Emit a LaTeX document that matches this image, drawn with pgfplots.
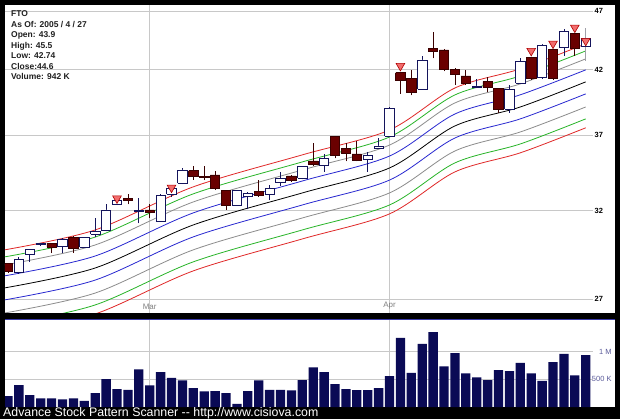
\documentclass[border=0pt]{standalone}
\usepackage{pgfplots}
\pgfplotsset{compat=1.18}
\usepackage{fontspec}
\setmainfont{Liberation Sans}
\definecolor{dnfill}{HTML}{6A0000}
\definecolor{dndraw}{HTML}{3A0000}
\definecolor{updraw}{HTML}{14145C}
\definecolor{trifill}{HTML}{F26D6D}
\definecolor{tridraw}{HTML}{B00000}
\definecolor{lred}{HTML}{E02828}
\definecolor{lgreen}{HTML}{28B428}
\definecolor{lgray}{HTML}{8C8C8C}
\definecolor{lblue}{HTML}{2828D0}
\definecolor{gridgray}{HTML}{C8C8C8}
\definecolor{labgray}{HTML}{808080}
\definecolor{volnavy}{HTML}{0A0A55}
\definecolor{volblue}{HTML}{5A5A9A}
\definecolor{sepblue}{HTML}{3A3AA8}
\definecolor{infotext}{HTML}{202020}
\definecolor{wickgray}{HTML}{A0A0A8}
\begin{document}
\begin{tikzpicture}[x=1bp,y=1bp]
\fill[black] (0,0) rectangle (620,419);
\fill[white] (5,106) rectangle (615,414);
\fill[white] (5,12) rectangle (615,99);
\draw[sepblue, line width=1.5bp] (5,99.75) -- (615,99.75);
\begin{axis}[
  at={(5bp,106bp)}, anchor=south west, scale only axis,
  width=588bp, height=308bp,
  xmin=-0.275, xmax=53.67,
  ymode=log, ymin=26.28, ymax=47.57,
  ytick={27,32,37,42,47}, yticklabels={27,32,37,42,47},
  xtick={13,35}, xticklabels={Mar,Apr},
  grid=major, grid style={gridgray, line width=0.75bp},
  axis line style={draw=none},
  major tick length=0pt,
  yticklabel pos=right,
  yticklabel style={anchor=west, font=\bfseries\fontsize{7.5}{9}\selectfont, inner sep=1.5bp},
  xticklabel style={anchor=south, font=\fontsize{8}{9}\selectfont, text=labgray},
  unbounded coords=jump,
]
% envelope lines
\addplot[lred, line width=0.8bp, smooth] coordinates {(-0.3,29.68) (8,30.84) (17,33.51) (27,35.64) (35,37.39) (41,40.54) (47,42.06) (53,44.14)};
\addplot[lgreen, line width=0.8bp, smooth] coordinates {(-0.3,29.28) (8,30.42) (17,33.06) (27,35.16) (35,36.89) (41,40.00) (47,41.49) (53,43.54)};
\addplot[lgray, line width=0.8bp, smooth] coordinates {(-0.3,28.83) (8,29.96) (17,32.55) (27,34.62) (35,36.32) (41,39.39) (47,40.86) (53,42.88)};
\addplot[lblue, line width=0.8bp, smooth] coordinates {(-0.3,28.23) (8,29.33) (17,31.87) (27,33.89) (35,35.56) (41,38.56) (47,40.01) (53,41.98)};
\addplot[black, line width=0.8bp, smooth] coordinates {(-0.3,27.58) (8,28.66) (17,31.14) (27,33.12) (35,34.75) (41,37.68) (47,39.09) (53,41.02)};
\addplot[lblue, line width=0.8bp, smooth] coordinates {(-0.3,26.95) (8,28.00) (17,30.43) (27,32.36) (35,33.95) (41,36.82) (47,38.20) (53,40.08)};
\addplot[lgray, line width=0.8bp, smooth] coordinates {(-0.3,26.28) (8,27.31) (17,29.68) (27,31.56) (35,33.12) (41,35.91) (47,37.25) (53,39.09)};
\addplot[lgreen, line width=0.8bp, smooth] coordinates {(-0.3,25.68) (8,26.69) (17,29.00) (27,30.84) (35,32.36) (41,35.09) (47,36.40) (53,38.20)};
\addplot[lred, line width=0.8bp, smooth] coordinates {(-0.3,25.24) (8,26.23) (17,28.50) (27,30.31) (35,31.81) (41,34.49) (47,35.78) (53,37.55)};
% wicks of falling days
\addplot[dndraw, line width=0.8bp] table[row sep=\\] {x y\\
0 28.40\\0 28.95\\nan nan\\4 29.49\\4 30.10\\nan nan\\6 29.50\\6 30.50\\nan nan\\
11 32.40\\11 33.04\\nan nan\\13 31.55\\13 32.45\\nan nan\\17 33.98\\17 34.89\\nan nan\\
18 33.95\\18 34.85\\nan nan\\19 33.30\\19 34.57\\nan nan\\20 32.05\\20 33.30\\nan nan\\
23 32.89\\23 33.96\\nan nan\\26 33.85\\26 34.30\\nan nan\\28 34.87\\28 36.45\\nan nan\\
30 35.40\\30 36.95\\nan nan\\31 35.20\\31 36.45\\nan nan\\32 35.20\\32 36.62\\nan nan\\
36 40.08\\36 41.80\\nan nan\\37 39.98\\37 41.96\\nan nan\\39 42.93\\39 45.19\\nan nan\\
40 41.85\\40 43.70\\nan nan\\41 40.78\\41 42.10\\nan nan\\42 40.78\\42 41.96\\nan nan\\
44 40.24\\44 41.43\\nan nan\\45 38.62\\45 40.55\\nan nan\\48 41.18\\48 43.05\\nan nan\\
50 41.18\\50 43.70\\nan nan\\52 43.13\\52 45.10\\};
% wicks of rising days
\addplot[updraw, line width=0.8bp] table[row sep=\\] {x y\\
1 28.35\\1 29.29\\nan nan\\2 28.99\\2 29.75\\nan nan\\3 29.90\\3 30.10\\nan nan\\
5 29.50\\5 30.35\\nan nan\\7 29.80\\7 30.45\\nan nan\\8 30.42\\8 31.56\\nan nan\\
9 30.75\\9 32.43\\nan nan\\10 32.35\\10 32.70\\nan nan\\12 31.24\\12 32.78\\nan nan\\
14 31.38\\14 33.04\\nan nan\\15 32.87\\15 33.45\\nan nan\\16 33.68\\16 34.73\\nan nan\\
21 32.30\\21 33.30\\nan nan\\22 32.08\\22 33.18\\nan nan\\24 32.67\\24 33.62\\nan nan\\
25 33.57\\25 34.50\\nan nan\\27 34.00\\27 34.90\\nan nan\\29 34.50\\29 35.70\\nan nan\\
33 34.50\\33 35.85\\nan nan\\34 36.05\\34 36.85\\nan nan\\35 36.90\\35 39.12\\nan nan\\
38 40.40\\38 43.15\\nan nan\\43 40.50\\43 41.23\\nan nan\\46 38.65\\46 40.78\\nan nan\\
47 40.90\\47 42.95\\nan nan\\49 41.23\\49 44.10\\nan nan\\51 43.13\\51 45.40\\};
\addplot[wickgray, line width=0.8bp] coordinates {(53,42.74) (53,45.50)};
% bodies of falling days
\addplot[fill=dnfill, draw=dndraw, line width=0.7bp] table[row sep=\\] {x y\\
-0.43 28.90\\0.43 28.90\\0.43 28.45\\-0.43 28.45\\-0.43 28.90\\nan nan\\
3.57 30.06\\4.43 30.06\\4.43 29.83\\3.57 29.83\\3.57 30.06\\nan nan\\
5.57 30.41\\6.43 30.41\\6.43 29.77\\5.57 29.77\\5.57 30.41\\nan nan\\
10.57 32.78\\11.43 32.78\\11.43 32.67\\10.57 32.67\\10.57 32.78\\nan nan\\
12.57 32.05\\13.43 32.05\\13.43 31.89\\12.57 31.89\\12.57 32.05\\nan nan\\
16.57 34.57\\17.43 34.57\\17.43 34.22\\16.57 34.22\\16.57 34.57\\nan nan\\
17.57 34.20\\18.43 34.20\\18.43 34.10\\17.57 34.10\\17.57 34.20\\nan nan\\
18.57 34.29\\19.43 34.29\\19.43 33.42\\18.57 33.42\\18.57 34.29\\nan nan\\
19.57 33.26\\20.43 33.26\\20.43 32.36\\19.57 32.36\\19.57 33.26\\nan nan\\
22.57 33.20\\23.43 33.20\\23.43 32.95\\22.57 32.95\\22.57 33.20\\nan nan\\
25.57 34.22\\26.43 34.22\\26.43 33.91\\25.57 33.91\\25.57 34.22\\nan nan\\
27.57 35.23\\28.43 35.23\\28.43 35.03\\27.57 35.03\\27.57 35.23\\nan nan\\
29.57 36.91\\30.43 36.91\\30.43 35.63\\29.57 35.63\\29.57 36.91\\nan nan\\
30.57 36.10\\31.43 36.10\\31.43 35.75\\30.57 35.75\\30.57 36.10\\nan nan\\
31.57 35.70\\32.43 35.70\\32.43 35.25\\31.57 35.25\\31.57 35.70\\nan nan\\
35.57 41.76\\36.43 41.76\\36.43 41.11\\35.57 41.11\\35.57 41.76\\nan nan\\
36.57 41.31\\37.43 41.31\\37.43 40.17\\36.57 40.17\\36.57 41.31\\nan nan\\
38.57 43.77\\39.43 43.77\\39.43 43.48\\38.57 43.48\\38.57 43.77\\nan nan\\
39.57 43.62\\40.43 43.62\\40.43 42.03\\39.57 42.03\\39.57 43.62\\nan nan\\
40.57 42.03\\41.43 42.03\\41.43 41.63\\40.57 41.63\\40.57 42.03\\nan nan\\
41.57 41.49\\42.43 41.49\\42.43 40.91\\41.57 40.91\\41.57 41.49\\nan nan\\
43.57 41.04\\44.43 41.04\\44.43 40.57\\43.57 40.57\\43.57 41.04\\nan nan\\
44.57 40.52\\45.43 40.52\\45.43 38.91\\44.57 38.91\\44.57 40.52\\nan nan\\
47.57 43.01\\48.43 43.01\\48.43 41.31\\47.57 41.31\\47.57 43.01\\nan nan\\
49.57 43.68\\50.43 43.68\\50.43 41.31\\49.57 41.31\\49.57 43.68\\nan nan\\
51.57 45.05\\52.43 45.05\\52.43 43.77\\51.57 43.77\\51.57 45.05\\};
% bodies of rising days
\addplot[fill=white, draw=updraw, line width=0.7bp] table[row sep=\\] {x y\\
0.57 28.40\\1.43 28.40\\1.43 29.15\\0.57 29.15\\0.57 28.40\\nan nan\\
1.57 29.43\\2.43 29.43\\2.43 29.73\\1.57 29.73\\1.57 29.43\\nan nan\\
2.57 29.97\\3.43 29.97\\3.43 30.03\\2.57 30.03\\2.57 29.97\\nan nan\\
4.57 29.86\\5.43 29.86\\5.43 30.29\\4.57 30.29\\4.57 29.86\\nan nan\\
6.57 29.83\\7.43 29.83\\7.43 30.39\\6.57 30.39\\6.57 29.83\\nan nan\\
7.57 30.58\\8.43 30.58\\8.43 30.78\\7.57 30.78\\7.57 30.58\\nan nan\\
8.57 30.80\\9.43 30.80\\9.43 32.05\\8.57 32.05\\8.57 30.80\\nan nan\\
9.57 32.40\\10.43 32.40\\10.43 32.67\\9.57 32.67\\9.57 32.40\\nan nan\\
11.57 31.98\\12.43 31.98\\12.43 32.03\\11.57 32.03\\11.57 31.98\\nan nan\\
13.57 31.38\\14.43 31.38\\14.43 32.95\\13.57 32.95\\13.57 31.38\\nan nan\\
14.57 33.05\\15.43 33.05\\15.43 33.42\\14.57 33.42\\14.57 33.05\\nan nan\\
15.57 33.74\\16.43 33.74\\16.43 34.62\\15.57 34.62\\15.57 33.74\\nan nan\\
20.57 32.36\\21.43 32.36\\21.43 33.26\\20.57 33.26\\20.57 32.36\\nan nan\\
21.57 32.89\\22.43 32.89\\22.43 33.10\\21.57 33.10\\21.57 32.89\\nan nan\\
23.57 33.04\\24.43 33.04\\24.43 33.42\\23.57 33.42\\23.57 33.04\\nan nan\\
24.57 33.78\\25.43 33.78\\25.43 34.07\\24.57 34.07\\24.57 33.78\\nan nan\\
26.57 34.07\\27.43 34.07\\27.43 34.88\\26.57 34.88\\26.57 34.07\\nan nan\\
28.57 34.90\\29.43 34.90\\29.43 35.41\\28.57 35.41\\28.57 34.90\\nan nan\\
32.57 35.33\\33.43 35.33\\33.43 35.58\\32.57 35.58\\32.57 35.33\\nan nan\\
33.57 36.07\\34.43 36.07\\34.43 36.26\\33.57 36.26\\33.57 36.07\\nan nan\\
34.57 36.96\\35.43 36.96\\35.43 38.99\\34.57 38.99\\34.57 36.96\\nan nan\\
37.57 40.44\\38.43 40.44\\38.43 42.79\\37.57 42.79\\37.57 40.44\\nan nan\\
42.57 40.57\\43.43 40.57\\43.43 40.70\\42.57 40.70\\42.57 40.57\\nan nan\\
45.57 38.91\\46.43 38.91\\46.43 40.44\\45.57 40.44\\45.57 38.91\\nan nan\\
46.57 40.91\\47.43 40.91\\47.43 42.65\\46.57 42.65\\46.57 40.91\\nan nan\\
48.57 41.39\\49.43 41.39\\49.43 44.05\\48.57 44.05\\48.57 41.39\\nan nan\\
50.57 43.85\\51.43 43.85\\51.43 45.19\\50.57 45.19\\50.57 43.85\\nan nan\\
52.57 43.90\\53.43 43.90\\53.43 44.60\\52.57 44.60\\52.57 43.90\\};
% signal triangles
\addplot[only marks, mark=triangle*, mark size=5bp, mark options={rotate=180, fill=trifill, draw=tridraw, line width=0.6bp}] coordinates {(10,32.77) (15,33.46) (36,42.30) (48,43.54) (50,44.16) (52,45.54) (53,44.39)};
\end{axis}
\begin{axis}[
  at={(5bp,12bp)}, anchor=south west, scale only axis,
  width=588bp, height=87bp,
  xmin=-0.275, xmax=53.67, ymin=0, ymax=1.576,
  ytick={0.5,1}, yticklabels={500 K,1 M},
  xtick={13,35}, xticklabels={},
  grid=major, grid style={gridgray, line width=0.75bp},
  axis line style={draw=none},
  major tick length=0pt,
  yticklabel pos=right,
  yticklabel style={anchor=east, xshift=22bp, font=\fontsize{7.5}{9}\selectfont, text=volblue},
]
\addplot[ybar, bar width=9.3bp, fill=volnavy, draw=none] coordinates {
(0,0.197) (1,0.397) (2,0.216) (3,0.156) (4,0.156) (5,0.138) (6,0.156) (7,0.112) (8,0.252) (9,0.505)
(10,0.324) (11,0.312) (12,0.681) (13,0.391) (14,0.632) (15,0.529) (16,0.482) (17,0.342) (18,0.283) (19,0.288)
(20,0.252) (21,0.058) (22,0.288) (23,0.482) (24,0.312) (25,0.312) (26,0.300) (27,0.487) (28,0.717) (29,0.632)
(30,0.415) (31,0.324) (32,0.306) (33,0.306) (34,0.342) (35,0.560) (36,1.254) (37,0.620) (38,1.145) (39,1.357)
(40,0.736) (41,0.976) (42,0.609) (43,0.536) (44,0.487) (45,0.668) (46,0.650) (47,0.801) (48,0.609) (49,0.475)
(50,0.813) (51,0.964) (52,0.572) (53,0.942)};
\end{axis}
\begin{scope}[font=\bfseries\fontsize{8.5}{10}\selectfont, text=infotext]
\node[anchor=base west, inner sep=0pt] at (11,402) {FTO};
\node[anchor=base west, inner sep=0pt] at (11,391.5) {As Of: 2005 / 4 / 27};
\node[anchor=base west, inner sep=0pt] at (11,381) {Open: 43.9};
\node[anchor=base west, inner sep=0pt] at (11,370.5) {High: 45.5};
\node[anchor=base west, inner sep=0pt] at (11,360) {Low: 42.74};
\node[anchor=base west, inner sep=0pt] at (11,349.5) {Close:44.6};
\node[anchor=base west, inner sep=0pt] at (11,339) {Volume: 942 K};
\end{scope}
\node[anchor=base west, inner sep=0pt, text=white, font=\fontsize{12.4}{12}\selectfont] at (3,2.3) {Advance Stock Pattern Scanner -{}- http://www.cisiova.com};
\end{tikzpicture}
\end{document}
